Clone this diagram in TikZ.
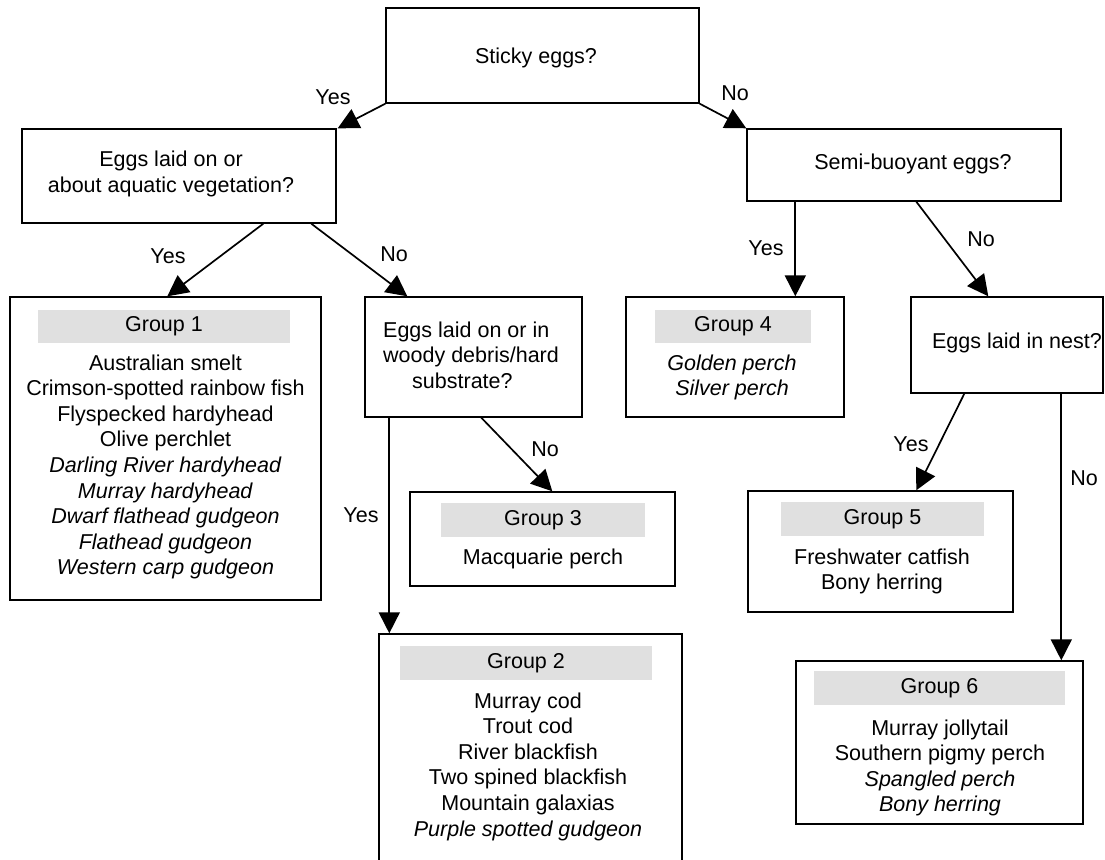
\documentclass[tikz,border=0pt]{standalone}
\usepackage{fontspec}
\setmainfont{Liberation Sans}
\usetikzlibrary{arrows.meta}
\definecolor{hdrgray}{RGB}{224,224,224}
\newcommand{\keyfont}{\fontsize{21.5pt}{25.6pt}\selectfont}

\begin{document}
\begin{tikzpicture}[x=1pt,y=-1pt,
  box/.style={draw=black, line width=1.4pt, inner sep=0pt},
  hdr/.style={fill=hdrgray, inner sep=0pt, font=\keyfont},
  qtxt/.style={font=\keyfont, align=center, inner sep=0pt},
  lst/.style={font=\keyfont, align=center, inner sep=0pt, anchor=north},
  lbl/.style={font=\keyfont, inner sep=0pt},
  arr/.style={line width=1.7pt, -{Triangle[length=21pt,width=21pt]}}]

\fill[white] (0,0) rectangle (1105,859);
\useasboundingbox (0,0) rectangle (1105,859);
\clip (0,0) rectangle (1105,859);

% question boxes
\node[box, minimum width=313pt, minimum height=95pt] (sticky) at (542.5,55.5) {};
\node[qtxt] (stickyt) at (536,58) {Sticky eggs?};

\node[box, minimum width=314pt, minimum height=94pt] (veg) at (179,176) {};
\node[qtxt] (vegt) at (171,174) {Eggs laid on or\\about aquatic vegetation?};

\node[box, minimum width=314pt, minimum height=72pt] (semi) at (904,165) {};
\node[qtxt] (semit) at (913,164) {Semi-buoyant eggs?};

\node[box, minimum width=217pt, minimum height=120pt] (woody) at (473.5,357) {};
\node[qtxt, align=left, anchor=north west] (woodyt) at (383,319)
  {\strut Eggs laid on or in\\woody debris/hard\\\hspace*{29pt}substrate?};

\node[box, minimum width=192pt, minimum height=96pt] (nest) at (1007,345) {};
\node[qtxt] (nestt) at (1017,343) {Eggs laid in nest?};

% group boxes
\node[box, minimum width=311pt, minimum height=303pt] (g1) at (165.5,448.5) {};
\node[hdr, minimum width=252pt, minimum height=33pt] (g1h) at (164,326.5) {Group 1};
\node[lst] (g1l) at (165.5,352) {\strut Australian smelt\\Crimson-spotted rainbow fish\\Flyspecked hardyhead\\Olive perchlet\\
  \textit{Darling River hardyhead}\\\textit{Murray hardyhead}\\\textit{Dwarf flathead gudgeon}\\\textit{Flathead gudgeon}\\\textit{Western carp gudgeon}};

\node[box, minimum width=303pt, minimum height=246pt] (g2) at (530.5,757) {};
\node[hdr, minimum width=252pt, minimum height=34pt] (g2h) at (526,663) {Group 2};
\node[lst] (g2l) at (528,690) {\strut Murray cod\\Trout cod\\River blackfish\\Two spined blackfish\\Mountain galaxias\\\textit{Purple spotted gudgeon}};

\node[box, minimum width=265pt, minimum height=94pt] (g3) at (542.5,539) {};
\node[hdr, minimum width=204pt, minimum height=34pt] (g3h) at (543,520) {Group 3};
\node[lst] (g3l) at (543,546) {\strut Macquarie perch};

\node[box, minimum width=218pt, minimum height=120pt] (g4) at (735,357) {};
\node[hdr, minimum width=156pt, minimum height=33pt] (g4h) at (733,326.5) {Group 4};
\node[lst] (g4l) at (732,352) {\strut\textit{Golden perch}\\\textit{Silver perch}};

\node[box, minimum width=265pt, minimum height=121pt] (g5) at (880.5,551.5) {};
\node[hdr, minimum width=203pt, minimum height=34pt] (g5h) at (882.5,519) {Group 5};
\node[lst] (g5l) at (882,546) {\strut Freshwater catfish\\Bony herring};

\node[box, minimum width=287pt, minimum height=163pt] (g6) at (939.5,742.5) {};
\node[hdr, minimum width=251pt, minimum height=34pt] (g6h) at (939.5,688) {Group 6};
\node[lst] (g6l) at (940,717) {\strut Murray jollytail\\Southern pigmy perch\\\textit{Spangled perch}\\\textit{Bony herring}};

% connectors
\draw[arr] (sticky.south west) -- ([xshift=1pt]veg.north east);
\draw[arr] (sticky.south east) -- (semi.north west);
\draw[arr] ([xshift=242pt]veg.south west) -- ([xshift=158pt]g1.north west);
\draw[arr] ([xshift=290pt]veg.south west) -- ([xshift=43pt]woody.north west);
\draw[arr] ([xshift=49pt]semi.south west) -- ([xshift=170pt]g4.north west);
\draw[arr] ([xshift=170pt]semi.south west) -- ([xshift=78pt]nest.north west);
\draw[arr] ([xshift=25pt]woody.south west) -- ([xshift=11pt]g2.north west);
\draw[arr] ([xshift=117pt]woody.south west) -- ([xshift=143pt]g3.north west);
\draw[arr] ([xshift=54pt]nest.south west) -- ([xshift=169pt]g5.north west);
\draw[arr] ([xshift=151pt]nest.south west) -- ([xshift=266pt]g6.north west);

% branch labels
\node[lbl] (ly1) at (333,97) {Yes};
\node[lbl] (ln1) at (735,93) {No};
\node[lbl] (ly2) at (168,256) {Yes};
\node[lbl] (ln2) at (394,254) {No};
\node[lbl] (ly3) at (766,248) {Yes};
\node[lbl] (ln3) at (981,239) {No};
\node[lbl] (ly4) at (361,515) {Yes};
\node[lbl] (ln4) at (545,449) {No};
\node[lbl] (ly5) at (911,444) {Yes};
\node[lbl] (ln5) at (1084,478) {No};
\end{tikzpicture}
\end{document}
